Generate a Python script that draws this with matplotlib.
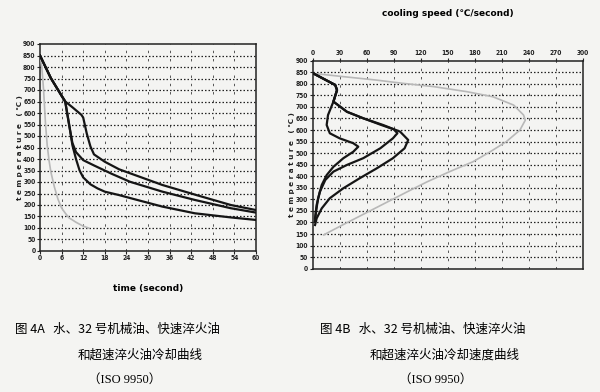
import matplotlib
matplotlib.use("Agg")
import matplotlib.pyplot as plt
from matplotlib.font_manager import FontProperties

# ---------------- data: Fig 4A (temperature vs time) ----------------
water_t = [0, 0.5, 1.0, 1.5, 2.0, 2.5, 3.0, 4, 5, 6, 7, 8, 10, 12, 13.5]
water_T = [850, 800, 700, 560, 460, 395, 345, 278, 225, 187, 165, 145, 125, 108, 100]

fast_t = [0, 3, 6, 7, 8, 9, 10, 11, 12, 14, 16, 18, 22, 27, 34, 43, 53, 60]
fast_T = [850, 752, 675, 650, 560, 460, 400, 350, 320, 290, 272, 258, 243, 222, 193, 164, 146, 135]

mid_t = [0, 3, 6, 7, 8, 9, 10, 12, 15, 20, 25, 34, 43, 53, 60]
mid_T = [850, 752, 675, 650, 555, 470, 430, 395, 372, 335, 301, 258, 222, 186, 167]

slow_t = [0, 3, 6, 7, 9, 11.5, 12, 13, 14, 15, 18, 22, 25, 34, 43.5, 53, 60]
slow_T = [850, 752, 675, 650, 625, 592, 580, 510, 455, 420, 388, 355, 338, 287, 243, 200, 178]

# ---------------- data: Fig 4B (cooling speed vs temperature) ----------------
w_speed = [0.7, 34, 71, 100, 134, 171, 200, 223, 234, 236, 230, 215, 197, 178, 152, 127, 105, 91, 62, 33, 12]
w_temp = [845, 831, 816, 802, 788, 766, 744, 708, 665, 643, 600, 550, 506, 463, 420, 376, 333, 305, 247, 189, 146]

a_speed = [0.7, 25, 27, 23, 38, 56, 78, 97, 106, 102, 89, 71, 52, 34, 19, 10, 4.4, 2.6]
a_temp = [845, 795, 773, 723, 679, 651, 622, 593, 557, 521, 478, 434, 391, 348, 305, 261, 218, 189]

b_speed = [0.7, 25, 27, 23, 38, 56, 76, 90, 94, 89, 75, 56, 38, 23, 14, 8, 4.4, 2.6]
b_temp = [845, 795, 773, 723, 679, 651, 622, 603, 586, 564, 521, 478, 449, 420, 384, 333, 276, 218]

c_speed = [0.7, 25, 27, 23, 17, 15.5, 19, 30, 45, 50.6, 45, 34, 23, 15.5, 10, 6, 3.7, 2.5]
c_temp = [845, 795, 773, 723, 665, 622, 586, 564, 543, 528, 506, 478, 441, 405, 362, 305, 247, 205]

x_ticks_a = list(range(0, 61, 6))
y_ticks = list(range(0, 901, 50))
x_ticks_b = list(range(0, 301, 30))

BG = "#f4f4f2"
tick_fp = FontProperties(family=["Liberation Sans Narrow", "DejaVu Sans"], stretch="condensed",
                         weight="bold", size=4.8)

fig = plt.figure(figsize=(6.0, 3.92), dpi=100, facecolor=BG)

def style_axes(ax):
    ax.set_facecolor(BG)
    ax.set_ylim(0, 900)
    ax.set_yticks(y_ticks)
    for yv in y_ticks[1:-1]:
        ax.axhline(yv, color="#222222", lw=0.9, ls=(0, (1.2, 1.6)), zorder=1)
    for s in ax.spines.values():
        s.set_linewidth(1.1)
        s.set_color("#222222")
    ax.tick_params(length=2, width=0.8, pad=1.2, colors="#222222")
    for lab in ax.get_xticklabels() + ax.get_yticklabels():
        lab.set_fontproperties(tick_fp)

# ---- left chart ----
ax1 = fig.add_axes([40/600, 1-251/392, 216/600, 207/392])
ax1.set_xlim(0, 60)
ax1.set_xticks(x_ticks_a)
for xv in x_ticks_a[1:-1]:
    ax1.axvline(xv, color="#555555", lw=0.7, ls=(0, (2.5, 6)), zorder=1)
style_axes(ax1)
ax1.plot(water_t, water_T, color="#b8b8b8", lw=1.2, zorder=3)
ax1.plot(fast_t, fast_T, color="#151515", lw=1.6, zorder=4)
ax1.plot(mid_t, mid_T, color="#151515", lw=1.6, zorder=4)
ax1.plot(slow_t, slow_T, color="#151515", lw=1.6, zorder=4)
ax1.set_xlabel("time (second)", fontsize=6.5, family=["Liberation Sans Narrow", "DejaVu Sans"],
               weight="bold", labelpad=16)
fig.text(20/600, 1-148/392, "t e m p e r a t u r e   ( ℃ )", rotation=90, fontsize=5.2,
         weight="bold", ha="center", va="center", color="#222222")

# ---- right chart ----
ax2 = fig.add_axes([312.7/600, 1-268.7/392, 270.3/600, 208/392])
ax2.set_xlim(0, 300)
ax2.set_xticks(x_ticks_b)
ax2.xaxis.tick_top()
for xv in x_ticks_b[1:-1]:
    ax2.axvline(xv, color="#555555", lw=0.7, ls=(0, (2.5, 6)), zorder=1)
style_axes(ax2)
ax2.plot(w_speed, w_temp, color="#b8b8b8", lw=1.2, zorder=3)
ax2.plot(a_speed, a_temp, color="#151515", lw=1.6, zorder=4)
ax2.plot(b_speed, b_temp, color="#151515", lw=1.6, zorder=4)
ax2.plot(c_speed, c_temp, color="#151515", lw=1.6, zorder=4)
fig.text(448/600, 1-14/392, "cooling speed (℃/second)", fontsize=6.5,
         family=["Liberation Sans Narrow", "DejaVu Sans"], weight="bold", ha="center", va="center")
fig.text(292/600, 1-165/392, "t e m p e r a t u r e   ( ℃ )", rotation=90, fontsize=5.2,
         weight="bold", ha="center", va="center", color="#222222")

# ---- captions ----
cjk = ["Noto Sans CJK SC", "DejaVu Sans"]
fig.text(15/600, 1-329/392, "图 4A   水、32 号机械油、快速淬火油", fontsize=9, family=cjk,
         ha="left", va="center")
fig.text(140/600, 1-355/392, "和超速淬火油冷却曲线", fontsize=9, family=cjk, ha="center", va="center")
fig.text(125/600, 1-380/392, "（ISO 9950）", fontsize=9, family=["Liberation Serif", "Noto Sans CJK SC"],
         ha="center", va="center")
fig.text(320/600, 1-329/392, "图 4B   水、32 号机械油、快速淬火油", fontsize=9, family=cjk,
         ha="left", va="center")
fig.text(445/600, 1-355/392, "和超速淬火油冷却速度曲线", fontsize=9, family=cjk, ha="center", va="center")
fig.text(436/600, 1-380/392, "（ISO 9950）", fontsize=9, family=["Liberation Serif", "Noto Sans CJK SC"],
         ha="center", va="center")

fig.savefig("out.png", dpi=100, facecolor=BG)
